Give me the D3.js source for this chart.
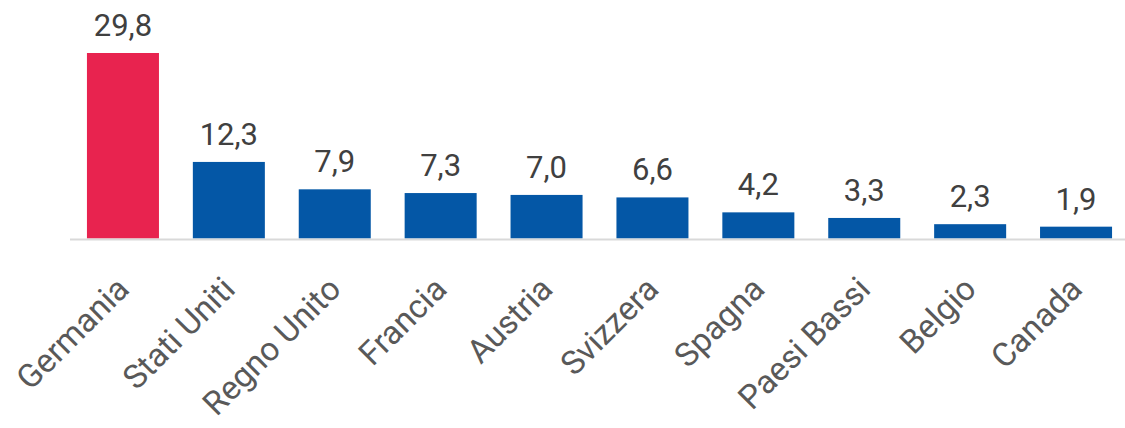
<!DOCTYPE html>
<html>
<head>
<meta charset="utf-8">
<script src="https://cdn.jsdelivr.net/npm/d3@7"></script>
<style>
  html, body { margin: 0; padding: 0; background: #fff; }
  #chart { width: 1125px; height: 428px; }
  text { font-family: Roboto, "Noto Sans", sans-serif; }
</style>
</head>
<body>
<div id="chart"></div>
<script>
// Dati
let paesi = ['Germania', 'Stati Uniti', 'Regno Unito', 'Francia', 'Austria', 'Svizzera', 'Spagna', 'Paesi Bassi', 'Belgio', 'Canada'];
let valori = [29.8, 12.3, 7.9, 7.3, 7.0, 6.6, 4.2, 3.3, 2.3, 1.9];
let evidenziato = 'Germania';

let colors = ['#e8234f', '#0457a6'];
let width = 1125, height = 428;
let baseY = 238.5;

let chart = d3.select('#chart')
    .append('svg')
        .attr('width', width)
        .attr('height', height);

let x_c = d3.scaleBand()
    .domain(paesi)
    .range([70, 1129])
    .paddingInner(0.32)
    .paddingOuter(0.16);

let y_c = d3.scaleLinear()
    .domain([0, 29.8])
    .range([baseY, 53]);

let fmt = function(v) { return d3.format('.1f')(v).replace('.', ','); };

// Barre
chart.selectAll('.bar')
    .data(paesi)
    .enter()
    .append('rect')
    .attr('class', 'bar')
    .attr('x', function(d) { return x_c(d); })
    .attr('width', x_c.bandwidth())
    .attr('y', function(d, i) { return y_c(valori[i]); })
    .attr('height', function(d, i) { return baseY - y_c(valori[i]); })
    .attr('fill', function(d) { return d == evidenziato ? colors[0] : colors[1]; });

// Asse
chart.append('line')
    .attr('x1', 70)
    .attr('x2', width)
    .attr('y1', baseY + 1)
    .attr('y2', baseY + 1)
    .attr('stroke', '#d9d9d9')
    .attr('stroke-width', 2);

// Etichette valori
chart.selectAll('.valore')
    .data(paesi)
    .enter()
    .append('text')
    .attr('class', 'valore')
    .attr('x', function(d) { return x_c(d) + x_c.bandwidth() / 2; })
    .attr('y', function(d, i) { return y_c(valori[i]) - 17; })
    .attr('text-anchor', 'middle')
    .attr('font-size', 31)
    .attr('fill', '#404040')
    .text(function(d, i) { return fmt(valori[i]); });

// Etichette categorie
chart.selectAll('.cat')
    .data(paesi)
    .enter()
    .append('text')
    .attr('class', 'cat')
    .attr('transform', function(d) {
        return 'translate(' + (x_c(d) + x_c.bandwidth() / 2 + 8) + ',' + 291 + ') rotate(-45)';
    })
    .attr('text-anchor', 'end')
    .attr('font-size', 33)
    .attr('fill', '#595959')
    .text(function(d) { return d; });
</script>
</body>
</html>
